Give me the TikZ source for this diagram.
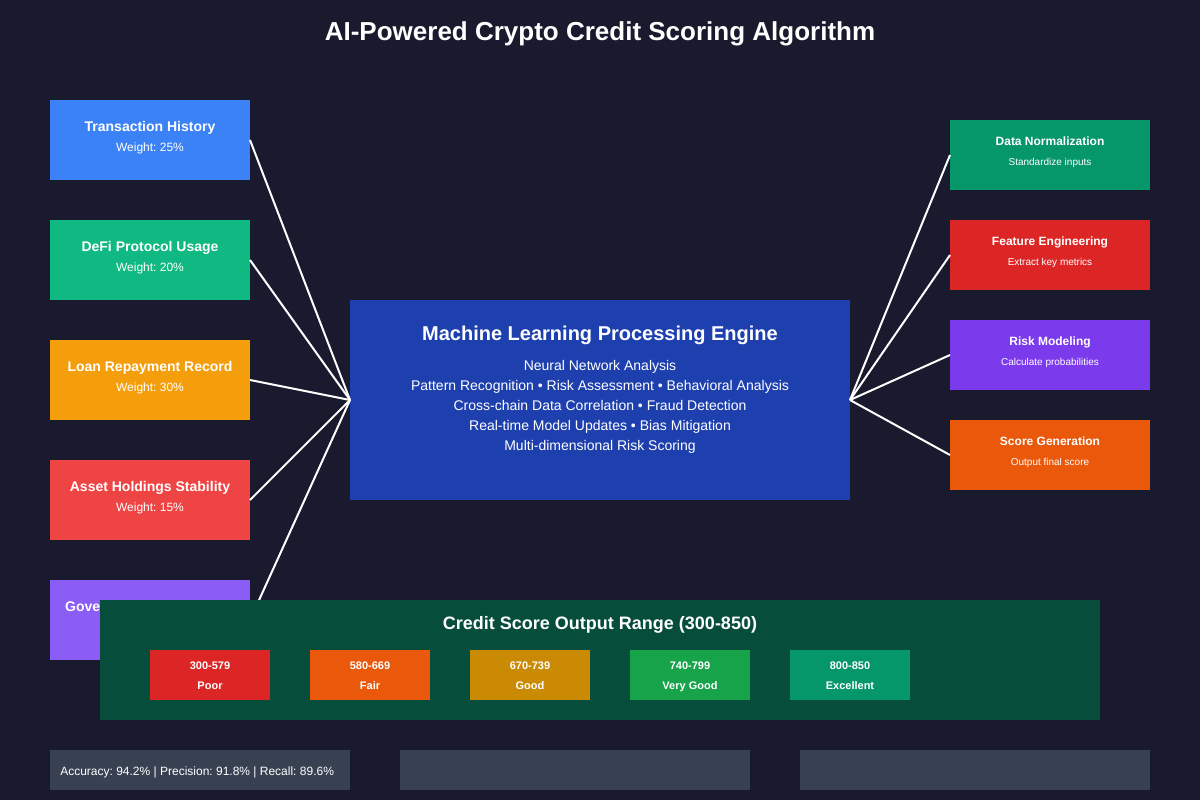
\documentclass[tikz,border=0pt]{standalone}
\usepackage{fontspec}
\setmainfont{Liberation Sans}
\usetikzlibrary{positioning}

\definecolor{bgdark}{HTML}{1A1A2E}
\definecolor{txblue}{HTML}{3B82F6}
\definecolor{defigreen}{HTML}{10B981}
\definecolor{loanamber}{HTML}{F59E0B}
\definecolor{assetred}{HTML}{EF4444}
\definecolor{govpurple}{HTML}{8B5CF6}
\definecolor{engblue}{HTML}{1E40AF}
\definecolor{normgreen}{HTML}{059669}
\definecolor{featred}{HTML}{DC2626}
\definecolor{riskviolet}{HTML}{7C3AED}
\definecolor{scoreorange}{HTML}{EA580C}
\definecolor{outgreen}{HTML}{064E3B}
\definecolor{goodgold}{HTML}{CA8A04}
\definecolor{vgoodgreen}{HTML}{16A34A}
\definecolor{barslate}{HTML}{374151}

\frenchspacing

\begin{document}
\frenchspacing
\begin{tikzpicture}[
    x=0.75pt, y=-0.75pt,
    inbox/.style={rectangle, inner sep=0pt, outer sep=0pt, minimum width=150pt, minimum height=60pt},
    stepbox/.style={rectangle, inner sep=0pt, outer sep=0pt, minimum width=150pt, minimum height=52.5pt},
    rangebox/.style={rectangle, inner sep=0pt, outer sep=0pt, minimum width=90pt, minimum height=37.5pt},
    bar/.style={rectangle, inner sep=0pt, outer sep=0pt, minimum height=30pt, fill=barslate, anchor=north west},
    txt/.style={text=white, anchor=base, inner sep=0pt},
    intitle/.style={txt, font=\fontsize{10.5pt}{12pt}\selectfont\bfseries},
    insub/.style={txt, font=\fontsize{9pt}{11pt}\selectfont},
    steptitle/.style={txt, font=\fontsize{9pt}{11pt}\selectfont\bfseries},
    stepsub/.style={txt, font=\fontsize{7.5pt}{9pt}\selectfont},
    rangetxt/.style={txt, font=\fontsize{8.25pt}{10pt}\selectfont\bfseries},
    link/.style={draw=white, line width=1.5pt}
]
% background
\fill[bgdark] (0,0) rectangle (1200,800);

\node[txt, font=\fontsize{19.5pt}{23pt}\selectfont\bfseries] (title) at (600,40)
      {AI-Powered Crypto Credit Scoring Algorithm};

% input factors
\node[inbox, fill=txblue, anchor=north west] (txhist) at (50,100) {};
\node[inbox, fill=defigreen, below=30pt of txhist] (defi) {};
\node[inbox, fill=loanamber, below=30pt of defi] (loan) {};
\node[inbox, fill=assetred, below=30pt of loan] (asset) {};
\node[inbox, fill=govpurple, below=30pt of asset] (gov) {};

\node[intitle] (txhist-t) at ([yshift=-23.25pt]txhist.north) {Transaction History};
\node[insub]   (txhist-w) at ([yshift=-38.25pt]txhist.north) {Weight: 25\%};
\node[intitle] (defi-t) at ([yshift=-23.25pt]defi.north) {DeFi Protocol Usage};
\node[insub]   (defi-w) at ([yshift=-38.25pt]defi.north) {Weight: 20\%};
\node[intitle] (loan-t) at ([yshift=-23.25pt]loan.north) {Loan Repayment Record};
\node[insub]   (loan-w) at ([yshift=-38.25pt]loan.north) {Weight: 30\%};
\node[intitle] (asset-t) at ([yshift=-23.25pt]asset.north) {Asset Holdings Stability};
\node[insub]   (asset-w) at ([yshift=-38.25pt]asset.north) {Weight: 15\%};
\node[intitle] (gov-t) at ([yshift=-23.25pt]gov.north) {Governance Participation};

% engine
\node[rectangle, inner sep=0pt, outer sep=0pt, minimum width=375pt, minimum height=150pt,
      fill=engblue, anchor=north west] (engine) at (350,300) {};
\node[txt, font=\fontsize{15pt}{18pt}\selectfont\bfseries] (engine-t)
      at ([yshift=-30.5pt]engine.north) {Machine Learning Processing Engine};
\foreach \ln [count=\i] in {Neural Network Analysis,
    Pattern Recognition • Risk Assessment • Behavioral Analysis,
    Cross-chain Data Correlation • Fraud Detection,
    Real-time Model Updates • Bias Mitigation,
    Multi-dimensional Risk Scoring}
  \node[txt, font=\fontsize{10.5pt}{12pt}\selectfont] (engine-l\i)
      at ([yshift={-(52.5+15*(\i-1))*1pt}]engine.north) {\ln};

% processing steps
\node[stepbox, fill=normgreen, anchor=north west] (norm) at (950,120) {};
\node[stepbox, fill=featred, below=22.5pt of norm] (feat) {};
\node[stepbox, fill=riskviolet, below=22.5pt of feat] (risk) {};
\node[stepbox, fill=scoreorange, below=22.5pt of risk] (score) {};

\node[steptitle] (norm-t) at ([yshift=-18.75pt]norm.north) {Data Normalization};
\node[stepsub]   (norm-s) at ([yshift=-33.75pt]norm.north) {Standardize inputs};
\node[steptitle] (feat-t) at ([yshift=-18.75pt]feat.north) {Feature Engineering};
\node[stepsub]   (feat-s) at ([yshift=-33.75pt]feat.north) {Extract key metrics};
\node[steptitle] (risk-t) at ([yshift=-18.75pt]risk.north) {Risk Modeling};
\node[stepsub]   (risk-s) at ([yshift=-33.75pt]risk.north) {Calculate probabilities};
\node[steptitle] (score-t) at ([yshift=-18.75pt]score.north) {Score Generation};
\node[stepsub]   (score-s) at ([yshift=-33.75pt]score.north) {Output final score};

% connectors
\foreach \src in {txhist, defi, loan, asset, gov}
  \draw[link] (\src.east) -- (engine.west);
\foreach \dst in {norm, feat, risk, score}
  \draw[link] (engine.east) -- (\dst.west);

% output range
\node[rectangle, inner sep=0pt, outer sep=0pt, minimum width=750pt, minimum height=90pt,
      fill=outgreen, anchor=north west] (output) at (100,600) {};
\node[txt, font=\fontsize{13.5pt}{16pt}\selectfont\bfseries] (output-t)
      at ([yshift=-22.1pt]output.north) {Credit Score Output Range (300-850)};
\foreach \nm/\col/\rng/\lbl [count=\i] in {poor/featred/300-579/Poor,
    fair/scoreorange/580-669/Fair, good/goodgold/670-739/Good,
    vgood/vgoodgreen/740-799/Very Good, excel/normgreen/800-850/Excellent}
{
  \node[rangebox, fill=\col, anchor=north west] (\nm) at ({150+160*(\i-1)},650) {};
  \node[rangetxt] (\nm-r) at ([yshift=-14.25pt]\nm.north) {\rng};
  \node[rangetxt] (\nm-l) at ([yshift=-29.25pt]\nm.north) {\lbl};
}

% metric bars
\node[bar, minimum width=225pt] (metrics) at (50,750) {};
\node[bar, minimum width=262.5pt] (barmid) at (400,750) {};
\node[bar, minimum width=262.5pt] (barright) at (800,750) {};
\node[txt, anchor=base west, font=\fontsize{9pt}{11pt}\selectfont] (metrics-t)
      at (60,775) {Accuracy: 94.2\% | Precision: 91.8\% | Recall: 89.6\%};
\end{tikzpicture}
\end{document}
